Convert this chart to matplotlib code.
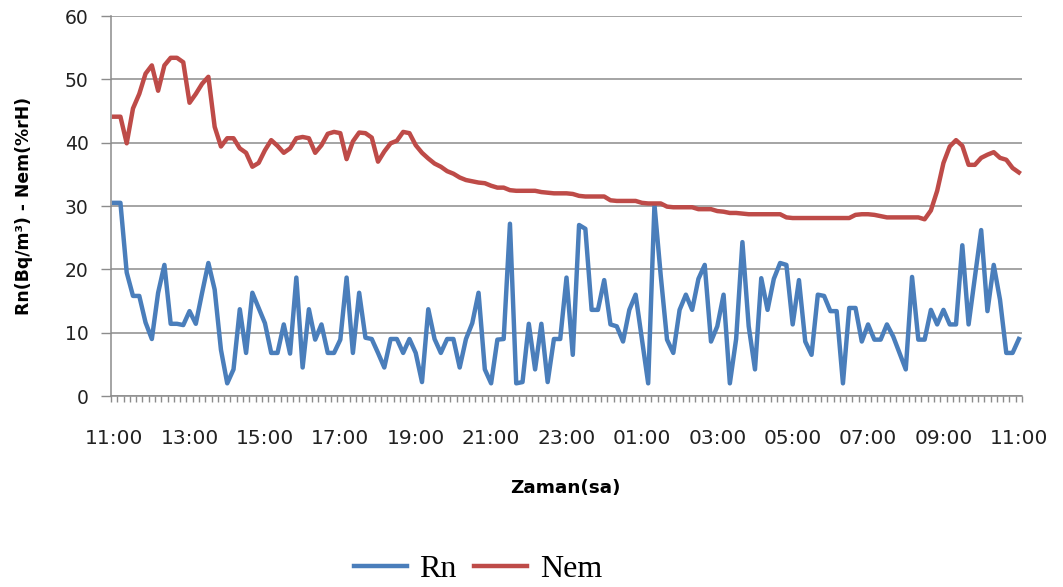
import numpy as np
import matplotlib
matplotlib.use("Agg")
import matplotlib.pyplot as plt

# 10-minute readings from 11:00 to 11:00 the next day
rn = [30.5, 30.5, 19.5, 15.8, 15.8, 11.6, 9.0, 16.3, 20.7, 11.4,
      11.4, 11.2, 13.4, 11.4, 16.3, 21.0, 16.8, 7.3, 2.0, 4.2,
      13.7, 6.8, 16.3, 13.9, 11.5, 6.8, 6.8, 11.3, 6.7, 18.7,
      4.5, 13.7, 8.9, 11.3, 6.8, 6.8, 8.9, 18.7, 6.8, 16.3,
      9.2, 9.0, 6.8, 4.5, 9.0, 9.0, 6.8, 9.0, 6.8, 2.2,
      13.7, 9.0, 6.8, 9.0, 9.0, 4.5, 9.0, 11.5, 16.3, 4.2,
      2.0, 8.9, 9.0, 27.2, 2.0, 2.2, 11.4, 4.2, 11.4, 2.2,
      9.0, 9.0, 18.7, 6.5, 27.0, 26.4, 13.6, 13.6, 18.3, 11.3,
      11.0, 8.6, 13.6, 16.0, 9.0, 2.0, 30.2, 19.0, 8.9, 6.8,
      13.6, 16.0, 13.6, 18.5, 20.7, 8.6, 11.0, 16.0, 2.0, 9.0,
      24.3, 11.0, 4.2, 18.6, 13.6, 18.5, 21.0, 20.7, 11.3, 18.3,
      8.6, 6.5, 16.0, 15.8, 13.4, 13.4, 2.0, 13.9, 13.9, 8.6,
      11.3, 8.9, 8.9, 11.3, 9.4, 6.8, 4.2, 18.8, 8.9, 8.9,
      13.6, 11.3, 13.6, 11.3, 11.3, 23.8, 11.3, 18.8, 26.2, 13.4,
      20.7, 15.2, 6.8, 6.8, 9.0]

nem = [44.1, 44.1, 39.9, 45.4, 47.7, 50.9, 52.2, 48.2, 52.2, 53.4,
       53.4, 52.7, 46.3, 47.7, 49.3, 50.4, 42.5, 39.4, 40.7, 40.7,
       39.1, 38.4, 36.2, 36.8, 38.8, 40.4, 39.5, 38.4, 39.1, 40.7,
       40.9, 40.7, 38.4, 39.6, 41.4, 41.7, 41.5, 37.4, 40.2, 41.6,
       41.5, 40.8, 37.0, 38.6, 39.9, 40.3, 41.7, 41.5, 39.6, 38.4,
       37.5, 36.7, 36.2, 35.5, 35.1, 34.5, 34.1, 33.9, 33.7, 33.6,
       33.2, 32.9, 32.9, 32.5, 32.4, 32.4, 32.4, 32.4, 32.2, 32.1,
       32.0, 32.0, 32.0, 31.9, 31.6, 31.5, 31.5, 31.5, 31.5, 30.9,
       30.8, 30.8, 30.8, 30.8, 30.5, 30.4, 30.4, 30.4, 29.9, 29.8,
       29.8, 29.8, 29.8, 29.5, 29.5, 29.5, 29.2, 29.1, 28.9, 28.9,
       28.8, 28.7, 28.7, 28.7, 28.7, 28.7, 28.7, 28.2, 28.1, 28.1,
       28.1, 28.1, 28.1, 28.1, 28.1, 28.1, 28.1, 28.1, 28.6, 28.7,
       28.7, 28.6, 28.4, 28.2, 28.2, 28.2, 28.2, 28.2, 28.2, 27.9,
       29.3, 32.4, 36.8, 39.4, 40.4, 39.5, 36.5, 36.5, 37.6, 38.1,
       38.5, 37.6, 37.3, 36.0, 35.3]

time_labels = ["11:00", "13:00", "15:00", "17:00", "19:00", "21:00", "23:00",
               "01:00", "03:00", "05:00", "07:00", "09:00", "11:00"]

BLUE = "#4A7EBB"
RED = "#BE4B48"
GRID = "#8C8C8C"

fig = plt.figure(figsize=(10.63, 5.87), dpi=100)
ax = fig.add_axes([111 / 1063, 1 - 396 / 587, 911 / 1063, 380 / 587])

x = np.arange(len(rn))
l_rn, = ax.plot(x, rn, color=BLUE, lw=3.2, solid_joinstyle="round", zorder=3)
l_nem, = ax.plot(x, nem, color=RED, lw=3.2, solid_joinstyle="round", zorder=3)

ax.set_xlim(-0.5, len(rn) - 0.5)
ax.set_ylim(0, 60)

# y axis
ax.set_yticks(np.arange(0, 61, 10))
ax.yaxis.grid(True, color=GRID, lw=1.1)
ax.set_axisbelow(True)
ax.tick_params(axis="y", direction="out", length=7, width=1.0, color=GRID,
               labelsize=13.5, pad=9, labelcolor="#222222")

# x axis: tick marks between every reading, labels every two hours
ax.set_xticks(np.arange(-0.5, len(rn), 1.0), minor=True)
ax.set_xticks(np.arange(0, len(rn), 12))
ax.set_xticklabels(time_labels)
ax.tick_params(axis="x", which="minor", direction="out", length=4,
               width=1.0, color=GRID)
ax.tick_params(axis="x", which="major", length=0, labelsize=14.5, pad=24,
               labelcolor="#222222")

for side in ("top", "right"):
    ax.spines[side].set_visible(False)
for side in ("left", "bottom"):
    ax.spines[side].set_color(GRID)
    ax.spines[side].set_linewidth(1.1)

ax.set_ylabel("Rn(Bq/m³) - Nem(%rH)", fontsize=12.4, fontweight="bold",
              labelpad=8)
ax.yaxis.set_label_coords(-78 / 911, 0.5)
fig.text(565 / 1063, 1 - 488 / 587, "Zaman(sa)", fontsize=13.2,
         fontweight="bold", ha="center", va="center")

fig.legend([l_rn, l_nem], ["Rn", "Nem"], loc="center",
           bbox_to_anchor=(478 / 1063, 1 - 569 / 587), ncol=2, frameon=False,
           prop={"family": "Liberation Serif", "size": 23},
           handlelength=1.65, handletextpad=0.4, columnspacing=0.55,
           borderpad=0.1)

fig.savefig("out.png", dpi=100)
